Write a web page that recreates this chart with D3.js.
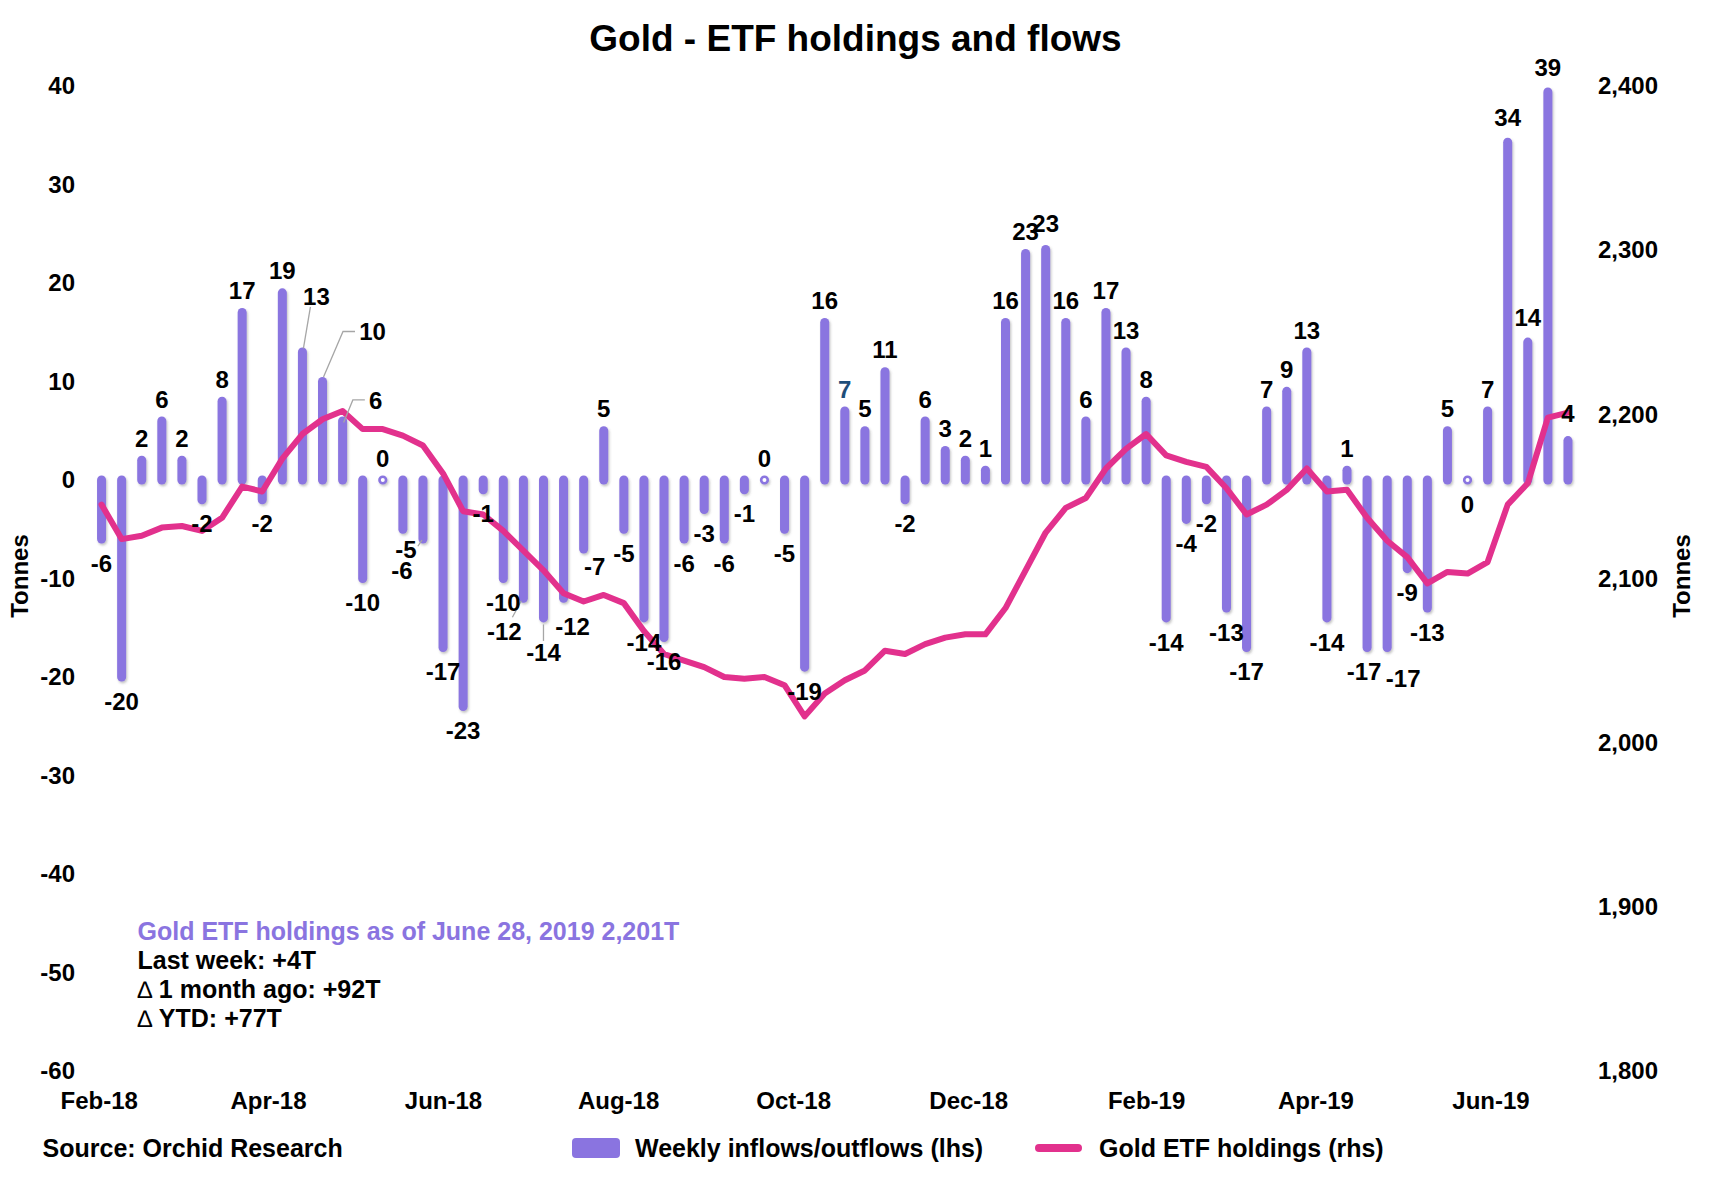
<!DOCTYPE html>
<html><head><meta charset="utf-8">
<script src="https://cdn.jsdelivr.net/npm/d3@7"></script>
<style>
html,body{margin:0;padding:0;background:#fff;}
svg{display:block;font-family:"Liberation Sans",Arial,Helvetica,sans-serif;}
</style></head><body>
<svg id="chart" width="1711" height="1198"></svg>
<script>
// ---------------- DATA ----------------
const weeks = [
 "2018-02-02","2018-02-09","2018-02-16","2018-02-23","2018-03-02","2018-03-09","2018-03-16","2018-03-23","2018-03-30",
 "2018-04-06","2018-04-13","2018-04-20","2018-04-27","2018-05-04","2018-05-11","2018-05-18","2018-05-25",
 "2018-06-01","2018-06-08","2018-06-15","2018-06-22","2018-06-29","2018-07-06","2018-07-13","2018-07-20","2018-07-27",
 "2018-08-03","2018-08-10","2018-08-17","2018-08-24","2018-08-31","2018-09-07","2018-09-14","2018-09-21","2018-09-28",
 "2018-10-05","2018-10-12","2018-10-19","2018-10-26","2018-11-02","2018-11-09","2018-11-16","2018-11-23","2018-11-30",
 "2018-12-07","2018-12-14","2018-12-21","2018-12-28","2019-01-04","2019-01-11","2019-01-18","2019-01-25",
 "2019-02-01","2019-02-08","2019-02-15","2019-02-22","2019-03-01","2019-03-08","2019-03-15","2019-03-22","2019-03-29",
 "2019-04-05","2019-04-12","2019-04-19","2019-04-26","2019-05-03","2019-05-10","2019-05-17","2019-05-24","2019-05-31",
 "2019-06-07","2019-06-14","2019-06-21","2019-06-28"
];
const flows = [
 -6,-20,2,6,2,-2,8,17,-2,19,13,10,6,-10,0,-5,-6,-17,-23,-1,-10,-12,-14,-12,-7,5,-5,-14,-16,-6,-3,-6,-1,0,-5,-19,
 16,7,5,11,-2,6,3,2,1,16,23,23.4,16,6,17,13,8,-14,-4,-2,-13,-17,7,9,13,-14,1,-17,-17,-9,-13,5,0,7,34.3,14,39.4,4
];
const holdings = [
 2145,2124,2126,2131,2132,2129,2137,2156,2153,2173,
 2188,2197,2202,2191,2191,2187,2181,2164,2141,2139,
 2129,2117,2105,2091,2086,2090,2085,2068,2054,2050,
 2046,2040,2039,2040,2035,2016,2030,2038,2044,2056,
 2054,2060,2064,2066,2066,2082,2105,2128,2143,2149,
 2167,2179,2188,2175,2171,2168,2155,2139,2145,2154,
 2167,2153,2154,2137,2123,2113,2097,2104,2103,2110,
 2145,2158,2198,2201
];
const xTickDates = ["2018-02-01","2018-04-01","2018-06-01","2018-08-01","2018-10-01","2018-12-01","2019-02-01","2019-04-01","2019-06-01"];
const xTickLabels = ["Feb-18","Apr-18","Jun-18","Aug-18","Oct-18","Dec-18","Feb-19","Apr-19","Jun-19"];
const leftTicks = [40,30,20,10,0,-10,-20,-30,-40,-50,-60];
const rightTicks = [2400,2300,2200,2100,2000,1900,1800];
const titleText = "Gold - ETF holdings and flows";
const seriesNames = ["Weekly inflows/outflows (lhs)","Gold ETF holdings (rhs)"];
const sourceText = "Source: Orchid Research";
const infoHeadline = "Gold ETF holdings as of June 28, 2019 2,201T";
const infoLines = [["", "Last week: +4T"], ["\u2206 ", "1 month ago: +92T"], ["\u2206 ", "YTD: +77T"]];

// ---------------- LAYOUT / STYLE ----------------
const W = 1711, H = 1198;
const plot = {left: 91.5, right: 1578, top: 86, bottom: 1071};
const purple = "#8A74E0", pink = "#E2318D", navy = "#1F4E79";
const font = "'Liberation Sans', Arial, Helvetica, sans-serif";
// label nudges (dx, dy in px) for labels the original moved by hand
const labelNudge = {10:[14,-34],11:[50,-28],12:[33,1],15:[3,-4],16:[-21,7],21:[-19,9],22:[0,10],23:[9,4],24:[11,-7],
                    47:[0,-4],63:[-3,0],64:[16,7],68:[0,46],70:[0,-3],71:[0,-3],72:[0,-3],73:[0,-5]};
const leaderIdx = [10,11,12,15,21,22];
const labelColor = {37: navy};
const fmtInt = v => String(Math.round(v));   // plain hyphen minus, like the original

const parse = d3.timeParse("%Y-%m-%d");
const dates = weeks.map(parse);
const svg = d3.select("#chart").style("font-family", font);

const x = d3.scaleTime()
  .domain([d3.timeHour.offset(dates[0], -84), d3.timeHour.offset(dates[dates.length-1], 84)])
  .range([plot.left, plot.right]);
const yL = d3.scaleLinear().domain([-60, 40]).range([plot.bottom, plot.top]);
const yR = d3.scaleLinear().domain([1800, 2400]).range([plot.bottom, plot.top]);

// shadow filter
const defs = svg.append("defs");
const f = defs.append("filter").attr("id","sh").attr("x","-50%").attr("y","-10%").attr("width","200%").attr("height","120%");
f.append("feDropShadow").attr("dx",1.2).attr("dy",1.8).attr("stdDeviation",1.2).attr("flood-color","#555").attr("flood-opacity",0.35);

// title
svg.append("text").attr("x", W/2).attr("y", 51).attr("text-anchor","middle")
  .attr("font-size", 37).attr("font-weight","bold").attr("fill","#000").text(titleText);

// axes
function styleAxis(g){
  g.select(".domain").remove();
  g.selectAll("line").remove();
  g.selectAll("text").attr("font-size", 24).attr("font-weight","bold").attr("fill","#000").attr("font-family", font);
}
svg.append("g").attr("transform", `translate(75,0)`)
  .call(d3.axisLeft(yL).tickValues(leftTicks).tickSize(0).tickPadding(0).tickFormat(fmtInt))
  .call(styleAxis);
svg.append("g").attr("transform", `translate(1598,0)`)
  .call(d3.axisRight(yR).tickValues(rightTicks).tickSize(0).tickPadding(0).tickFormat(d3.format(",")))
  .call(styleAxis);
svg.append("g").attr("transform", `translate(0,${plot.bottom})`)
  .call(d3.axisBottom(x).tickValues(xTickDates.map(parse)).tickSize(0).tickPadding(21)
        .tickFormat((d,i)=>xTickLabels[i]))
  .call(styleAxis);

// axis titles
svg.append("text").attr("transform","translate(19,576) rotate(-90)").attr("text-anchor","middle")
  .attr("dominant-baseline","central").attr("font-size",24).attr("font-weight","bold").text("Tonnes");
svg.append("text").attr("transform","translate(1681,576) rotate(-90)").attr("text-anchor","middle")
  .attr("dominant-baseline","central").attr("font-size",24).attr("font-weight","bold").text("Tonnes");

// bars
const barG = svg.append("g").attr("filter","url(#sh)");
const rows = flows.map((v,i)=>({i, v, d: dates[i], h: holdings[i]}));
barG.selectAll("line.bar").data(rows.filter(r=>r.v!==0)).join("line")
  .attr("class","bar")
  .attr("x1", r=>x(r.d)).attr("x2", r=>x(r.d))
  .attr("y1", yL(0)).attr("y2", r=>yL(r.v))
  .attr("stroke", purple).attr("stroke-width", 9).attr("stroke-linecap","round");
barG.selectAll("circle.zero").data(rows.filter(r=>r.v===0)).join("circle")
  .attr("class","zero").attr("cx", r=>x(r.d)).attr("cy", yL(0)).attr("r", 3.3)
  .attr("fill","#fff").attr("stroke", purple).attr("stroke-width", 2.6);

// line
svg.append("path").datum(rows)
  .attr("d", d3.line().x(r=>x(r.d)).y(r=>yR(r.h)))
  .attr("fill","none").attr("stroke", pink).attr("stroke-width", 6)
  .attr("stroke-linejoin","round").attr("stroke-linecap","round");

// data labels
function labelPos(r){
  const base = r.v < 0 ? yL(r.v) + 24 : yL(r.v) - 22;
  const n = labelNudge[r.i] || [0,0];
  return [x(r.d) + n[0], base + n[1]];
}
// leader lines
const leadG = svg.append("g");
leaderIdx.forEach(i=>{
  const r = rows[i];
  const [lx, ly] = labelPos(r);
  const bx = x(r.d);
  const by = r.v < 0 ? yL(r.v) + 4.5 : yL(r.v) - 4.5;
  let pts;
  if (lx - bx > 25) {
    const w = fmtInt(r.v).length * 13.5 / 2 + 4;
    pts = [[lx - w, ly], [lx - w - 12, ly], [bx + 1, by + (r.v > 8 ? 0 : 6)]];
  } else if (Math.abs(lx - bx) < 3) {
    pts = [[bx, by + 2], [bx, ly - 11]];
  } else if (r.v < 0 && lx < bx) {
    pts = [[lx + 8, ly - 14], [bx - 2, by - 2]];
  } else {
    pts = [[lx - 6, ly + 11], [bx + 1, by + 1]];
  }
  if (r.i === 15) pts = [[lx + 12, ly - 3], [x(rows[16].d) - 1, yL(rows[16].v) + 1]];
  leadG.append("path").attr("d", d3.line()(pts)).attr("fill","none")
    .attr("stroke","#A6A6A6").attr("stroke-width",1.3);
});
svg.append("g").selectAll("text").data(rows).join("text")
  .attr("x", r=>labelPos(r)[0]).attr("y", r=>labelPos(r)[1])
  .attr("dy","0.36em").attr("text-anchor","middle")
  .attr("font-size",24).attr("font-weight","bold")
  .attr("fill", r=>labelColor[r.i] || "#000")
  .text(r=>fmtInt(r.v));

// info box
const info = svg.append("g").attr("font-size",25).attr("font-weight","bold");
info.append("text").attr("x",137.5).attr("y",940).attr("fill", purple).text(infoHeadline);
infoLines.forEach((l,k)=>{
  const t = info.append("text").attr("x",137.5).attr("y",968.5 + k*29).attr("fill","#000");
  if (l[0]) t.append("tspan").attr("font-weight","normal").attr("font-size",24).text(l[0]);
  t.append("tspan").text(l[1]);
});

// source + legend
svg.append("text").attr("x",42.6).attr("y",1157).attr("font-size",25).attr("font-weight","bold").text(sourceText);
const lg = svg.append("g").attr("font-size",25).attr("font-weight","bold");
lg.append("rect").attr("x",572).attr("y",1138).attr("width",48).attr("height",20).attr("rx",4).attr("fill",purple);
lg.append("text").attr("x",635).attr("y",1157).text(seriesNames[0]);
lg.append("line").attr("x1",1039).attr("x2",1078).attr("y1",1148).attr("y2",1148)
  .attr("stroke",pink).attr("stroke-width",8).attr("stroke-linecap","round");
lg.append("text").attr("x",1099).attr("y",1157).text(seriesNames[1]);
</script>
</body></html>
